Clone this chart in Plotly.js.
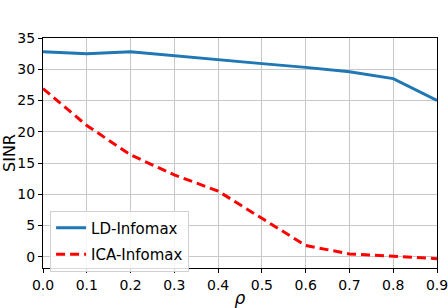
<!DOCTYPE html>
<html>
<head>
<meta charset="utf-8">
<script src="https://cdn.plot.ly/plotly-3.0.1.min.js"></script>
<style>html,body{margin:0;padding:0;background:#fff;}#chart{width:448px;height:308px;}</style>
</head>
<body>
<div id="chart"></div>
<script>
const rho = [0.0, 0.1, 0.2, 0.3, 0.4, 0.5, 0.6, 0.7, 0.8, 0.9];
const ldInfomax = [32.8, 32.5, 32.8, 32.15, 31.45, 30.9, 30.3, 29.6, 28.5, 25.0];
const icaInfomax = [26.9, 21.0, 16.3, 13.1, 10.5, 6.2, 1.8, 0.45, 0.1, -0.3];
const xTicks = [0.0, 0.1, 0.2, 0.3, 0.4, 0.5, 0.6, 0.7, 0.8, 0.9];
const xTickText = ["0.0", "0.1", "0.2", "0.3", "0.4", "0.5", "0.6", "0.7", "0.8", "0.9"];
const yTicks = [0, 5, 10, 15, 20, 25, 30, 35];

const font = "DejaVu Sans";
const traces = [
  {x: rho, y: ldInfomax, name: "LD-Infomax", mode: "lines", type: "scatter", legendgroup: "a",
   line: {color: "#1f77b4", width: 3}},
  {x: rho, y: icaInfomax, name: "ICA-Infomax", mode: "lines", type: "scatter", legendgroup: "b",
   line: {color: "#ff0000", width: 3, dash: "9px,5px"}}
];
const axisCommon = {
  showline: true, linecolor: "#000", linewidth: 1, mirror: true,
  showgrid: true, gridcolor: "#c8c8c8", gridwidth: 1,
  ticks: "outside", ticklen: 4, tickcolor: "#000",
  zeroline: false, ticklabeloverflow: "allow",
  tickfont: {family: font, size: 14, color: "#000"}
};
const layout = {
  width: 448, height: 308,
  margin: {l: 43, r: 11, t: 38, b: 40},
  paper_bgcolor: "#fff", plot_bgcolor: "#fff",
  showlegend: true,
  legend: {x: 0.018, y: 0.25, xanchor: "left", yanchor: "top",
    bgcolor: "rgba(255,255,255,0.85)", bordercolor: "#d0d0d0", borderwidth: 1,
    font: {family: font, size: 15, color: "#000"}, tracegroupgap: 4},
  xaxis: Object.assign({}, axisCommon, {
    range: [0, 0.9], tickvals: xTicks, ticktext: xTickText,
    title: {text: "<i>ρ</i>", font: {family: font, size: 17, color: "#000"}, standoff: 4}
  }),
  yaxis: Object.assign({}, axisCommon, {
    range: [-1.8, 35], tickvals: yTicks,
    title: {text: "SINR", font: {family: font, size: 16, color: "#000"}, standoff: 6}
  })
};
Plotly.newPlot("chart", traces, layout, {staticPlot: true, displayModeBar: false});
</script>
</body>
</html>
